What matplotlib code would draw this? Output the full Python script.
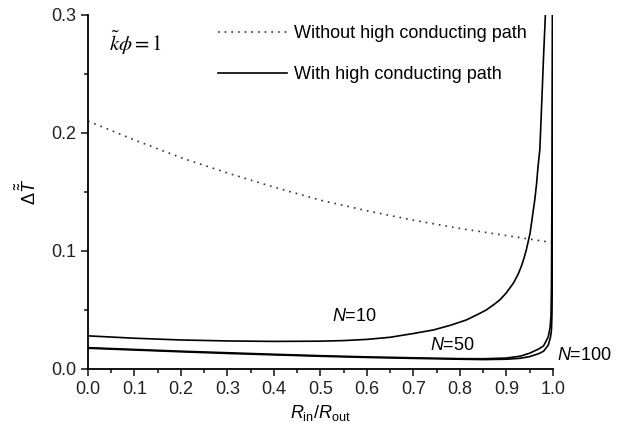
import numpy as np
import matplotlib
matplotlib.use('Agg')
import matplotlib.pyplot as plt
from matplotlib.ticker import MultipleLocator
from matplotlib.lines import Line2D

plt.rcParams['font.family'] = ['Liberation Sans', 'DejaVu Sans']
plt.rcParams['mathtext.fontset'] = 'custom'
plt.rcParams['mathtext.rm'] = 'Liberation Sans'
plt.rcParams['mathtext.it'] = 'Liberation Sans:italic'

# without high conducting path (dotted)
x_plain = [0.0, 0.1, 0.2, 0.3, 0.4, 0.5, 0.6, 0.7, 0.8, 0.9, 1.0]
y_plain = [0.210, 0.194, 0.179, 0.166, 0.154, 0.143, 0.134, 0.126, 0.119, 0.113, 0.107]

# with high conducting path, N = 10
x_n10 = [0.0, 0.1, 0.2, 0.3, 0.4, 0.5, 0.55, 0.6, 0.65, 0.7, 0.743, 0.78, 0.814,
         0.84, 0.857, 0.873, 0.886, 0.9, 0.915, 0.925, 0.932, 0.938, 0.943, 0.947,
         0.951, 0.956, 0.961, 0.965, 0.968, 0.972, 0.976, 0.980, 0.985]
y_n10 = [0.028, 0.026, 0.0245, 0.0237, 0.0233, 0.0235, 0.0240, 0.0250, 0.0268,
         0.0300, 0.033, 0.037, 0.0415, 0.0465, 0.050, 0.0545, 0.0585, 0.0645,
         0.0726, 0.080, 0.0867, 0.094, 0.101, 0.108, 0.115, 0.129, 0.143, 0.157,
         0.171, 0.186, 0.225, 0.265, 0.31]

# N = 50
x_n50 = [0.0, 0.1, 0.2, 0.3, 0.4, 0.5, 0.6, 0.7, 0.8, 0.85, 0.9, 0.93, 0.95,
         0.97, 0.98, 0.99, 0.994, 0.996, 0.997, 0.998, 0.999]
y_n50 = [0.018, 0.0165, 0.015, 0.0137, 0.0124, 0.0112, 0.0102, 0.0094, 0.0087,
         0.0086, 0.0092, 0.0108, 0.0133, 0.0170, 0.0195, 0.027, 0.035, 0.045,
         0.07, 0.15, 0.31]

# N = 100
x_n100 = [0.0, 0.1, 0.2, 0.3, 0.4, 0.5, 0.6, 0.7, 0.8, 0.85, 0.9, 0.93, 0.95,
          0.97, 0.98, 0.99, 0.995, 0.997, 0.998, 0.999, 0.9995, 1.0]
y_n100 = [0.0175, 0.016, 0.0145, 0.0131, 0.0119, 0.0107, 0.0097, 0.0089, 0.0082,
          0.0079, 0.0082, 0.0090, 0.0104, 0.0130, 0.0150, 0.020, 0.027, 0.033,
          0.045, 0.08, 0.15, 0.31]

fig = plt.figure(figsize=(6.24, 4.25), dpi=100)
ax = fig.add_axes([0.141, 0.132, 0.745, 0.833])

lw = 1.2
ax.plot(x_plain, y_plain, color='#333333', lw=lw, linestyle=(0, (1, 3)))
ax.plot(x_n10, y_n10, color='black', lw=lw)
ax.plot(x_n50, y_n50, color='black', lw=lw)
ax.plot(x_n100, y_n100, color='black', lw=lw)

ax.set_xlim(0, 1.0)
ax.set_ylim(0, 0.3)
ax.spines['top'].set_visible(False)
ax.spines['right'].set_visible(False)
for s in ['left', 'bottom']:
    ax.spines[s].set_linewidth(1.3)
ax.xaxis.set_major_locator(MultipleLocator(0.1))
ax.xaxis.set_minor_locator(MultipleLocator(0.05))
ax.yaxis.set_major_locator(MultipleLocator(0.1))
ax.yaxis.set_minor_locator(MultipleLocator(0.05))
ax.tick_params(which='both', direction='out', width=1.2, labelsize=13, colors='#222222')
ax.tick_params(which='major', length=5)
ax.tick_params(which='minor', length=3)
ax.xaxis.set_major_formatter(plt.FormatStrFormatter('%.1f'))
ax.yaxis.set_major_formatter(plt.FormatStrFormatter('%.1f'))

ax.set_xlabel(r'$R_{\mathrm{in}}/R_{\mathrm{out}}$', fontsize=13, labelpad=4)
ax.set_ylabel(r'$\Delta\tilde{\tilde{T}}$', fontsize=13, labelpad=8)

ax.text(0.045, 0.276, r'$\tilde{k}\phi = 1$', fontsize=15, math_fontfamily='stix',
        va='center', ha='left')

handles = [Line2D([], [], color='#333333', lw=lw, linestyle=(0, (1, 3))),
           Line2D([], [], color='black', lw=lw)]
labels = ['Without high conducting path', 'With high conducting path']
ax.legend(handles, labels, loc='upper left', bbox_to_anchor=(0.245, 1.016),
          frameon=False, fontsize=13, handlelength=3.8, handletextpad=0.4,
          labelspacing=1.33)

ax.text(0.574, 0.044, r'$N$=10', fontsize=13, ha='center', va='center')
ax.text(0.785, 0.020, r'$N$=50', fontsize=13, ha='center', va='center')
ax.text(1.009, 0.011, r'$N$=100', fontsize=13, ha='left', va='center', clip_on=False)

fig.savefig('out.png', dpi=100)
